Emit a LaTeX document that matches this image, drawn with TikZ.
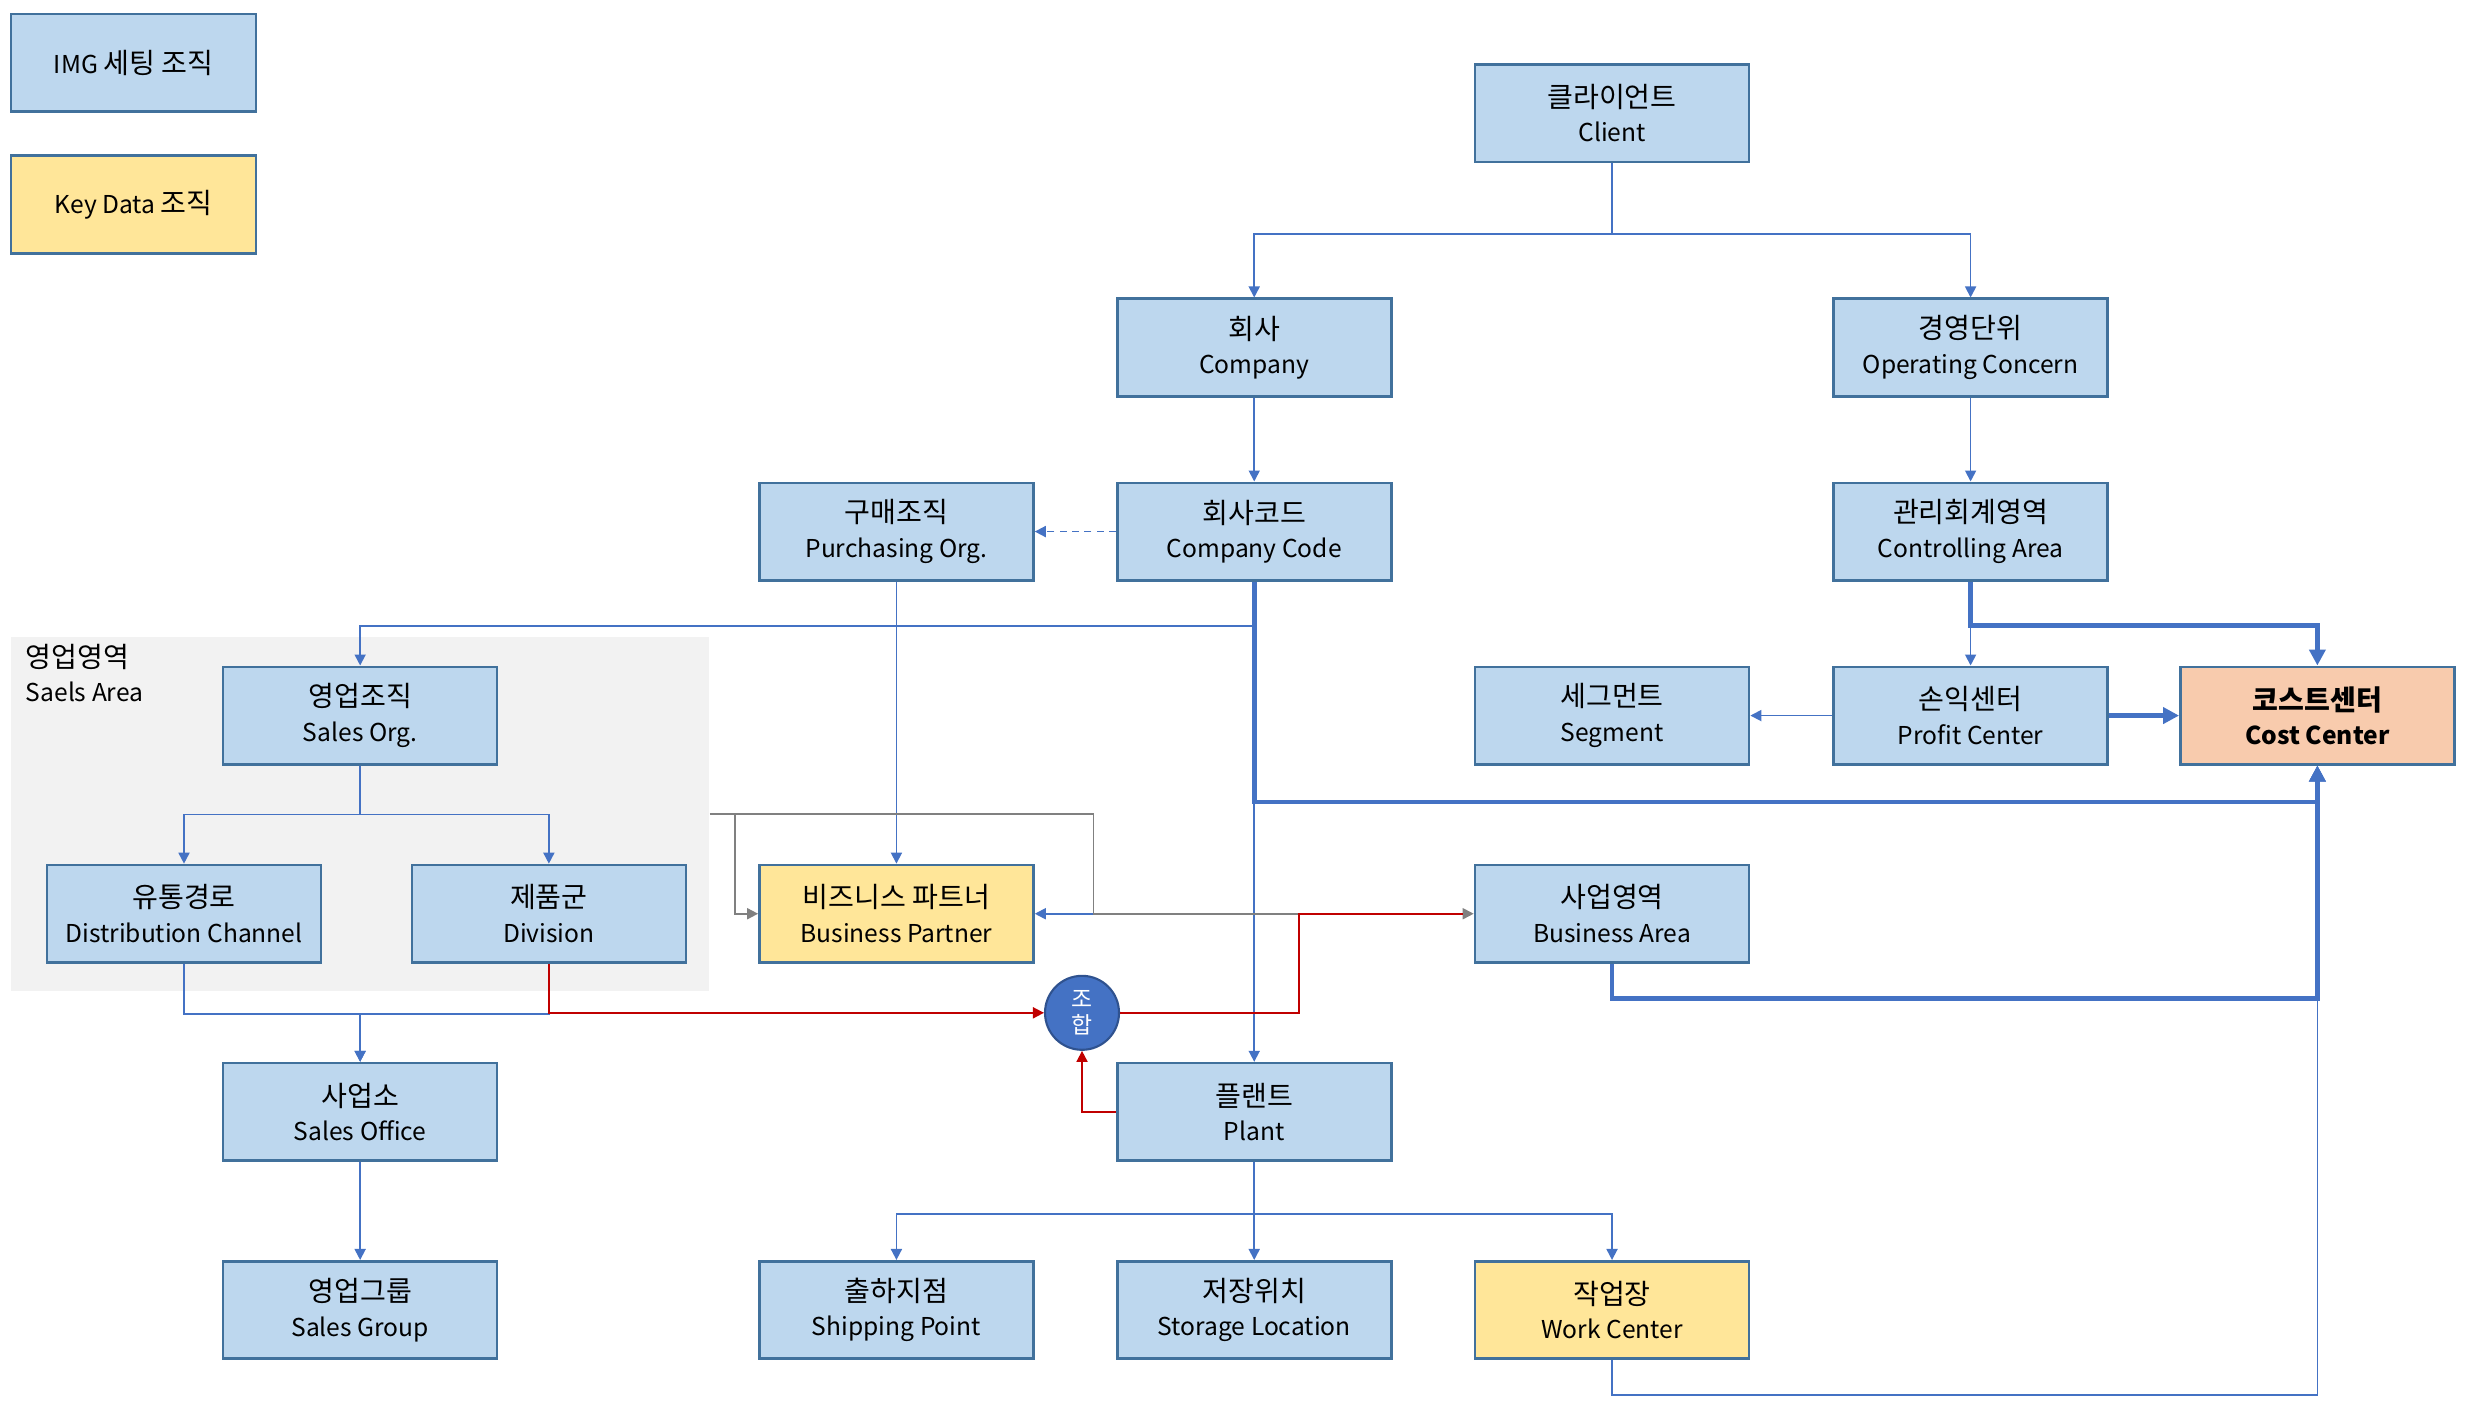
\documentclass[tikz,border=0pt]{standalone}
\usepackage{fontspec}
\setmainfont{Noto Sans CJK KR}
\usetikzlibrary{arrows.meta,calc}
\definecolor{skyfill}{HTML}{BDD7EE}
\definecolor{keyfill}{HTML}{FFE699}
\definecolor{costfill}{HTML}{F8CBAD}
\definecolor{frame}{HTML}{41719C}
\definecolor{linkblue}{HTML}{4472C4}
\definecolor{areagrey}{HTML}{F2F2F2}
\definecolor{linkred}{HTML}{C00000}
\definecolor{linkgrey}{HTML}{808080}
\definecolor{comboframe}{HTML}{2F528F}
\newcommand\en{\fontsize{7}{9.8}\selectfont}
\tikzset{
  >={Triangle[length=1.1mm,width=1.1mm]},
  org/.style={draw=frame,fill=#1,line width=0.75pt,minimum width=27.4mm,minimum height=9.75mm,
    inner sep=0pt,align=center,font=\fontsize{8}{9.8}\selectfont},
  org/.default=skyfill,
  legend/.style={org=#1,minimum width=24.5mm},
  legend/.default=skyfill,
  area/.style={fill=areagrey,minimum width=69.8mm,minimum height=35.4mm,inner sep=0pt},
  link/.style={->,draw=linkblue,line width=0.5pt},
  thicklink/.style={-{Triangle[length=1.6mm,width=1.6mm]},draw=linkblue,line width=1.3pt},
  redlink/.style={->,draw=linkred,line width=0.5pt},
  greylink/.style={->,draw=linkgrey,line width=0.5pt},
  combo/.style={circle,draw=comboframe,fill=linkblue,line width=0.6pt,minimum size=7.4mm,inner sep=0pt,
    text=white,align=center,font=\fontsize{6.5}{7.6}\selectfont},
}

\begin{document}
\begin{tikzpicture}[x=0.15727mm,y=-0.15727mm]
  \useasboundingbox (0,0) rectangle (1568,894);
  \node[area] (area) at (229,517.5) {};
  \node[anchor=north west,align=left,inner sep=0pt,font=\fontsize{8}{9.8}\selectfont] (areatitle) at (16,409) {영업영역\\\en Saels Area};

  \node[legend] (legimg) at (85,40) {\en IMG \fontsize{8}{9.8}\selectfont 세팅 조직};
  \node[legend=keyfill] (legkey) at (85,130) {\en Key Data \fontsize{8}{9.8}\selectfont 조직};

  \node[org] (client) at (1025,72) {클라이언트\\\en Client};
  \node[org] (company) at (797.5,221) {회사\\\en Company};
  \node[org] (opcon) at (1253,221) {경영단위\\\en Operating Concern};
  \node[org] (purch) at (570,338) {구매조직\\\en Purchasing Org.};
  \node[org] (ccode) at (797.5,338) {회사코드\\\en Company Code};
  \node[org] (carea) at (1253,338) {관리회계영역\\\en Controlling Area};
  \node[org] (salesorg) at (229,455) {영업조직\\\en Sales Org.};
  \node[org] (segment) at (1025,455) {세그먼트\\\en Segment};
  \node[org] (profit) at (1253,455) {손익센터\\\en Profit Center};
  \node[org=costfill,font=\fontsize{8}{9.8}\selectfont\bfseries] (cost) at (1473.5,455) {코스트센터\\\en Cost Center};
  \node[org] (distch) at (117,581) {유통경로\\\en Distribution Channel};
  \node[org] (division) at (349,581) {제품군\\\en Division};
  \node[org=keyfill] (bp) at (570,581) {비즈니스 파트너\\\en Business Partner};
  \node[org] (barea) at (1025,581) {사업영역\\\en Business Area};
  \node[combo] (mix) at (688,644) {조\\합};
  \node[org] (office) at (229,707) {사업소\\\en Sales Office};
  \node[org] (plant) at (797.5,707) {플랜트\\\en Plant};
  \node[org] (group) at (229,833) {영업그룹\\\en Sales Group};
  \node[org] (ship) at (570,833) {출하지점\\\en Shipping Point};
  \node[org] (storage) at (797.5,833) {저장위치\\\en Storage Location};
  \node[org=keyfill] (work) at (1025,833) {작업장\\\en Work Center};

  \draw[link] (client.south) -- ++(0,45) -| (company.north);
  \draw[link] (client.south) -- ++(0,45) -| (opcon.north);
  \draw[link] (company) -- (ccode);
  \draw[link] (opcon) -- (carea);
  \draw[link,dash pattern=on 2pt off 1.5pt] (ccode) -- (purch);
  \draw[link] (purch) -- (bp);
  \draw[link] (ccode.south) -- ++(0,28) -| (salesorg.north);
  \draw[link] (ccode) -- (plant);
  \draw[link] (ccode.south) |- (bp.east);
  \draw[link] (carea) -- (profit);
  \draw[link] (profit) -- (segment);
  \draw[link] (salesorg.south) -- ++(0,31) -| (distch.north);
  \draw[link] (salesorg.south) -- ++(0,31) -| (division.north);
  \draw[link] (distch.south) -- ++(0,32) -| (office.north);
  \draw[link] (division.south) -- ++(0,32) -| (office.north);
  \draw[link] (office) -- (group);
  \draw[link] (plant.south) -- ++(0,33) -| (ship.north);
  \draw[link] (plant) -- (storage);
  \draw[link] (plant.south) -- ++(0,33) -| (work.north);
  \draw[link] (work.south) -- ++(0,22) -| (cost.south);

  \draw[greylink] (area.east) -- ++(16,0) |- (bp.west);
  \draw[greylink] (area.east) -- ++(244,0) |- (barea.west);
  \draw[redlink] (division.south) |- (mix.west);
  \draw[redlink] (plant.west) -| (mix.south);
  \draw[redlink,-,shorten >=1.1mm] (mix.east) -- ++(114,0) |- (barea.west);

  \draw[thicklink] (ccode.south) -- ++(0,140) -| (cost.south);
  \draw[thicklink] (carea.south) -- ++(0,28) -| (cost.north);
  \draw[thicklink] (profit) -- (cost);
  \draw[thicklink] (barea.south) -- ++(0,22) -| (cost.south);
\end{tikzpicture}
\end{document}
